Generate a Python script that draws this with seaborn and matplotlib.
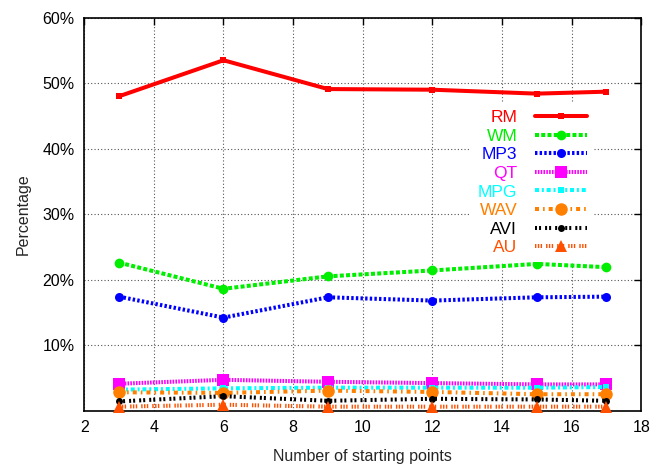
import matplotlib
matplotlib.use("Agg")
import matplotlib.pyplot as plt
import seaborn as sns
import pandas as pd
from matplotlib.ticker import FuncFormatter

# Share of traffic per media format vs. number of starting points
starting_points = [3, 6, 9, 12, 15, 17]
formats = ["RM", "WM", "MP3", "QT", "MPG", "WAV", "AVI", "AU"]
rm = [48.0, 53.5, 49.1, 49.0, 48.4, 48.7]
wm = [22.6, 18.6, 20.5, 21.4, 22.4, 21.9]
mp3 = [17.4, 14.2, 17.3, 16.8, 17.3, 17.4]
qt = [4.1, 4.7, 4.4, 4.2, 4.0, 4.0]
mpg = [3.2, 3.4, 3.5, 3.5, 3.5, 3.6]
wav = [2.8, 2.7, 3.05, 2.85, 2.5, 2.5]
avi = [1.4, 2.2, 1.5, 1.8, 1.7, 1.5]
au = [0.6, 0.9, 0.6, 0.6, 0.6, 0.6]
x_ticks = [2, 4, 6, 8, 10, 12, 14, 16, 18]
y_ticks = [10, 20, 30, 40, 50, 60]

series = [rm, wm, mp3, qt, mpg, wav, avi, au]
df = pd.DataFrame(
    {
        "points": starting_points * len(formats),
        "pct": [v for s in series for v in s],
        "format": [f for f in formats for _ in starting_points],
    }
)

styles = {
    "RM":  dict(color="#ff0000", marker="s", ms=4.5, ls="-"),
    "WM":  dict(color="#00ee00", marker="o", ms=7, ls=(0, (1.0, 0.55))),
    "MP3": dict(color="#0000ff", marker="o", ms=6.5, ls=(0, (0.6, 0.55))),
    "QT":  dict(color="#ff00ff", marker="s", ms=8, ls=(0, (0.4, 0.3))),
    "MPG": dict(color="#00ffff", marker="s", ms=5, ls=(0, (1.0, 0.7, 0.5, 0.7))),
    "WAV": dict(color="#ff8000", marker="o", ms=9, ls=(0, (1.0, 1.0, 0.4, 1.0))),
    "AVI": dict(color="#000000", marker="o", ms=5, ls=(0, (0.5, 0.5, 0.5, 1.0))),
    "AU":  dict(color="#ff5000", marker="^", ms=9, ls=(0, (0.35, 0.35, 0.35, 0.35, 0.35, 1.0))),
}

sns.set_style("white")
plt.rcParams["font.family"] = ["Liberation Sans", "DejaVu Sans"]

fig = plt.figure(figsize=(6.53, 4.65), dpi=100)
ax = fig.add_axes([0.129, 0.117, 0.853, 0.845])

for i, name in enumerate(formats):
    st = styles[name]
    sns.lineplot(
        data=df[df["format"] == name], x="points", y="pct", ax=ax,
        color=st["color"], marker=st["marker"], markersize=st["ms"],
        markeredgewidth=0, linestyle=st["ls"], linewidth=2.9,
        label=name, zorder=3 + i, estimator=None, clip_on=False,
    )

ax.set_xlim(2, 18)
ax.set_ylim(0, 60)
ax.set_xticks(x_ticks)
ax.set_yticks(y_ticks)
ax.yaxis.set_major_formatter(FuncFormatter(lambda v, p: f"{int(v)}%"))
ax.tick_params(direction="in", length=5, width=1, top=True, right=True,
               labelsize=11.5, colors="black", pad=7)
ax.grid(True, color="#555555", linestyle=(0, (1, 2)), linewidth=0.8)
for sp in ax.spines.values():
    sp.set_visible(True)
    sp.set_color("black")
    sp.set_linewidth(1.2)

ax.set_xlabel("Number of starting points", fontsize=11.5, labelpad=10)
ax.set_ylabel("Percentage", fontsize=11.5, labelpad=8)

leg = ax.legend(
    loc="upper right", bbox_to_anchor=(0.93, 0.805),
    markerfirst=False, labelcolor="linecolor", fontsize=12.5,
    handlelength=3.0, handletextpad=1.0, labelspacing=0.2,
    borderpad=0.4, frameon=True, fancybox=False, framealpha=1,
    facecolor="white", edgecolor="none", numpoints=1,
)
leg.set_zorder(20)

fig.savefig("out.png", dpi=100)
